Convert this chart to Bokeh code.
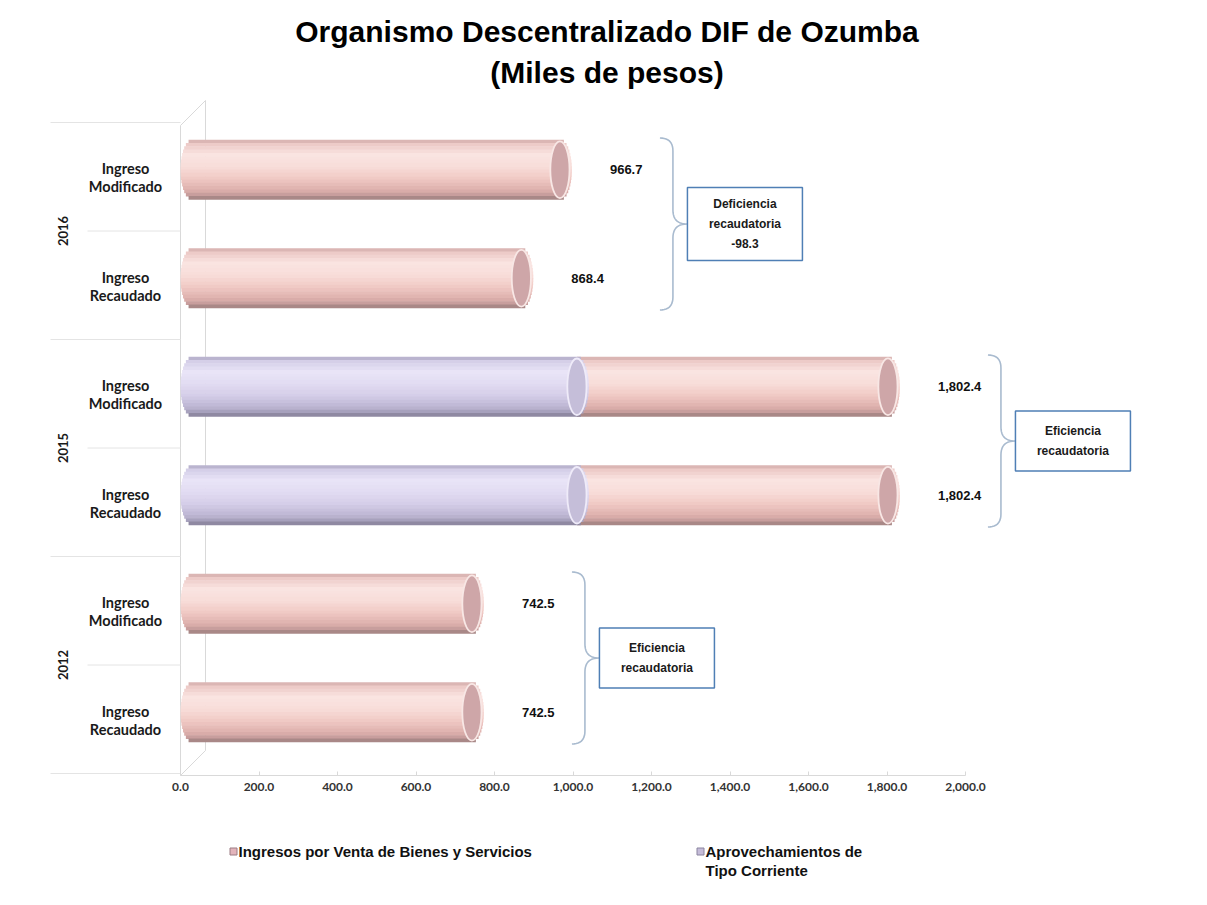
import numpy as np
from bokeh.plotting import figure
from bokeh.layouts import column
from bokeh.models import Range1d, FixedTicker, NumeralTickFormatter, Title
from bokeh.core.properties import value
from bokeh.embed import file_html
from bokeh.resources import INLINE

# ---------------- data ----------------
years = ["2016", "2016", "2015", "2015", "2012", "2012"]
concepts = ["Ingreso\nModificado", "Ingreso\nRecaudado",
            "Ingreso\nModificado", "Ingreso\nRecaudado",
            "Ingreso\nModificado", "Ingreso\nRecaudado"]
ventas = [966.7, 868.4, 792.4, 792.4, 742.5, 742.5]      # Ingresos por Venta de Bienes y Servicios
aprov = [0.0, 0.0, 1010.0, 1010.0, 0.0, 0.0]             # Aprovechamientos de Tipo Corriente
series_names = ["Ingresos por Venta de Bienes y Servicios",
                "Aprovechamientos de\nTipo Corriente"]
x_ticks = [0, 200, 400, 600, 800, 1000, 1200, 1400, 1600, 1800, 2000]
title_main = "Organismo Descentralizado DIF de Ozumba"
title_sub = "(Miles de pesos)"

# ---------------- layout constants ----------------
UPX = 2000 / 785.0          # data units per screen px (x)
PXY = 108.5                 # screen px per category (y)
LEFT = 14
FRAME_W, FRAME_H = 1185, 680
ZERO_PX = 180 - LEFT
X0 = -ZERO_PX * UPX
X1 = X0 + FRAME_W * UPX
Y0 = -0.5 - 9 / PXY
Y1 = Y0 + FRAME_H / PXY
BH = 0.55                   # bar thickness (category units)
CAP = 12 * UPX              # cylinder cap half width

n = len(years)
rows = [n - 1 - i for i in range(n)]
totals = [v + a for v, a in zip(ventas, aprov)]

p = figure(frame_width=FRAME_W, frame_height=FRAME_H,
           x_range=Range1d(X0, X1), y_range=Range1d(Y0, Y1),
           y_axis_location=None, toolbar_location=None, output_backend="svg",
           min_border_left=LEFT, min_border_right=0, min_border_top=95,
           min_border_bottom=32, outline_line_color=None,
           background_fill_color="white", border_fill_color="white")
p.grid.visible = False

# titles (later 'above' items sit nearer the frame)
p.title.text = title_main
p.title.align = "center"
p.title.text_font = "Liberation Sans"
p.title.text_font_size = "30px"
p.title.text_font_style = "bold"
p.title.text_color = "black"
p.title.standoff = 0
p.add_layout(Title(text=title_sub, align="center", text_font="Liberation Sans",
                   text_font_size="30px", text_font_style="bold",
                   text_color="black", standoff=13), "above")

# x axis
ax = p.xaxis[0]
ax.ticker = FixedTicker(ticks=x_ticks)
ax.bounds = (x_ticks[0], x_ticks[-1])
ax.formatter = NumeralTickFormatter(format="0,0.0")
ax.axis_line_color = "#d9d9d9"
ax.major_tick_in = 4
ax.major_tick_out = 0
ax.major_tick_line_color = "#d9d9d9"
ax.minor_tick_line_color = None
ax.major_label_text_font = "Lato"
ax.major_label_text_font_size = "12px"
ax.major_label_text_font_style = "bold"
ax.major_label_text_color = "#333333"
ax.major_label_standoff = 7

# 3D wall outline
WB = 25 * UPX
p.line([0, 0, WB, WB, 0],
       [Y0, 5.5 - 10 / PXY, 5.5 + 15 / PXY, -0.5 + 16 / PXY, Y0],
       line_color="#d9d9d9", line_width=1)

# separator lines in label area
sx0, sx1, sy = [], [], []
for i in range(n + 1):
    yb = (rows[0] + 0.5) if i == 0 else (rows[i - 1] - 0.5)
    group_edge = (i == 0 or i == n or years[i] != years[i - 1])
    sx0.append(-(130 if group_edge else 93) * UPX)
    sx1.append(0)
    sy.append(yb - 7 / PXY)
p.segment(x0=sx0, y0=sy, x1=sx1, y1=sy, line_color="#e4e4e4", line_width=1)


# ---------------- cylinders ----------------
def hex2rgb(h):
    h = h.lstrip("#")
    return np.array([int(h[i:i + 2], 16) for i in (0, 2, 4)], dtype=float)


def shade(stops, t):
    pos = [s[0] for s in stops]
    cols = [hex2rgb(s[1]) for s in stops]
    rgb = [np.interp(t, pos, [c[j] for c in cols]) for j in range(3)]
    return "#%02x%02x%02x" % tuple(int(round(v)) for v in rgb)


pink_stops = [(0.0, "#cfa9a8"), (0.07, "#ecc9c6"), (0.25, "#fae4e1"),
              (0.45, "#f8ddd9"), (0.65, "#f0c9c4"), (0.85, "#ddafac"),
              (0.95, "#bd9695"), (1.0, "#8f7676")]
purple_stops = [(0.0, "#aaa4c0"), (0.07, "#d3cde7"), (0.25, "#e9e4f7"),
                (0.45, "#e2dcf2"), (0.65, "#d4cde8"), (0.85, "#bcb5d2"),
                (0.95, "#9d97b2"), (1.0, "#7d788f")]
NS = 18
edges = np.linspace(0, 1, NS + 1)
tc = (edges[:-1] + edges[1:]) / 2        # 0 top ... 1 bottom
t_mid = 1 - 2 * tc                       # +1 top ... -1 bottom
offs = BH / 2 * t_mid
hts = BH / NS


def cylinders(lefts, rights, stops, face_fill, face_line, round_left):
    idx = [i for i in range(n) if rights[i] > lefts[i]]
    for k in range(NS):
        f = np.sqrt(max(0.0, 1 - t_mid[k] ** 2))
        ys = [rows[i] + offs[k] for i in idx]
        ls = [lefts[i] + (CAP * (1 - f) if round_left[i] else 0) for i in idx]
        rs = [rights[i] + CAP * f for i in idx]
        p.hbar(y=ys, left=ls, right=rs, height=hts * 1.15,
               fill_color=shade(stops, tc[k]), line_color=None)
    p.ellipse(x=[rights[i] for i in idx], y=[rows[i] for i in idx],
              width=2 * CAP * 0.8, height=BH * 0.95,
              fill_color=face_fill, line_color=face_line, line_width=1.8)


cylinders(aprov, totals, pink_stops, "#cea6a8", "#f8e7e5",
          [a == 0 for a in aprov])
cylinders([0.0] * n, aprov, purple_stops, "#c5bed9", "#efebf9",
          [True] * n)

# value labels
p.text(x=totals, y=rows, text=["{:,.1f}".format(t) for t in totals],
       x_offset=50, text_align="left", text_baseline="middle",
       text_font=value("Liberation Sans"), text_font_style="bold",
       text_font_size="13px", text_color="#111111")

# category labels
p.text(x=[-55 * UPX] * n, y=rows, text=concepts, y_offset=8,
       text_align="center", text_baseline="middle",
       text_font=value("Lato"), text_font_style="bold",
       text_font_size="14.5px", text_line_height=1.05, text_color="#1a1a1a")

# year group labels, braces, boxes
groups = []
for i in range(n):
    if not groups or groups[-1][0] != years[i]:
        groups.append([years[i], []])
    groups[-1][1].append(i)

gx, gy, gtext = [], [], []
bx, by, bw, bh, btx = [], [], [], [], []
brace_xs, brace_ys = [], []
tq = np.linspace(0, 1, 12)


def quad(p0, c, p1):
    return [((1 - t) ** 2 * p0[0] + 2 * (1 - t) * t * c[0] + t ** 2 * p1[0],
             (1 - t) ** 2 * p0[1] + 2 * (1 - t) * t * c[1] + t ** 2 * p1[1]) for t in tq]


brace_px = (quad((0, 86), (13, 86), (13, 73)) +
            quad((13, 14), (13, 0), (27, 0)) +
            quad((27, 0), (13, 0), (13, -14)) +
            quad((13, -73), (13, -86), (0, -86)))

for name, idx in groups:
    yc = np.mean([rows[i] for i in idx])
    vmax = max(totals[i] for i in idx)
    gx.append(-118 * UPX)
    gy.append(yc - 7 / PXY)
    gtext.append(name)
    diff = totals[idx[1]] - totals[idx[0]]
    if diff < -0.05:
        txt = "Deficiencia\nrecaudatoria\n{:,.1f}".format(diff)
    else:
        txt = "Eficiencia\nrecaudatoria"
    nl = txt.count("\n") + 1
    bx.append(vmax + 185 * UPX)
    by.append(yc)
    bw.append(115)
    bh.append(73 if nl == 3 else 60)
    btx.append(txt)
    base = vmax + 100 * UPX
    brace_xs.append([base + dx * UPX for dx, dy in brace_px])
    brace_ys.append([yc + dy / PXY for dx, dy in brace_px])

p.text(x=gx, y=gy, text=gtext, angle=np.pi / 2, text_align="center",
       text_baseline="middle", text_font=value("Lato"), text_font_style="bold",
       text_font_size="13px", text_color="#1a1a1a")
p.multi_line(xs=brace_xs, ys=brace_ys, line_color="#a9bbcf", line_width=1.6)
p.rect(x=bx, y=by, width=bw, height=bh, width_units="screen",
       height_units="screen", fill_color="white", line_color="#4f7fb5",
       line_width=1.5)
p.text(x=bx, y=by, text=btx, text_align="center", text_baseline="middle",
       text_font=value("Liberation Sans"), text_font_style="bold",
       text_font_size="12px", text_line_height=1.4, text_color="#1a1a1a")

# ---------------- legend strip (second figure, pixel coordinates) ----------------
LEG_W, LEG_H = FRAME_W, 92
q = figure(frame_width=LEG_W, frame_height=LEG_H,
           x_range=Range1d(0, LEG_W), y_range=Range1d(LEG_H, 0),
           x_axis_location=None, y_axis_location=None,
           toolbar_location=None, output_backend="svg",
           min_border=0, outline_line_color=None,
           background_fill_color="white", border_fill_color="white")
q.grid.visible = False
leg_x = [219, 686]
leg_fill = ["#e2b4bb", "#c5bcd9"]
leg_line = ["#9c7c84", "#8a849f"]
q.scatter(x=leg_x, y=[44, 44], marker="square", size=7,
          fill_color=leg_fill, line_color=leg_line, line_width=1)
q.text(x=[x + 5 for x in leg_x], y=[35, 35], text=series_names,
       text_align="left", text_baseline="top",
       text_font=value("Liberation Sans"), text_font_style="bold",
       text_font_size="15px", text_line_height=1.13, text_color="#111111")

open("out.html", "w").write(file_html(column(p, q, spacing=0), INLINE))
